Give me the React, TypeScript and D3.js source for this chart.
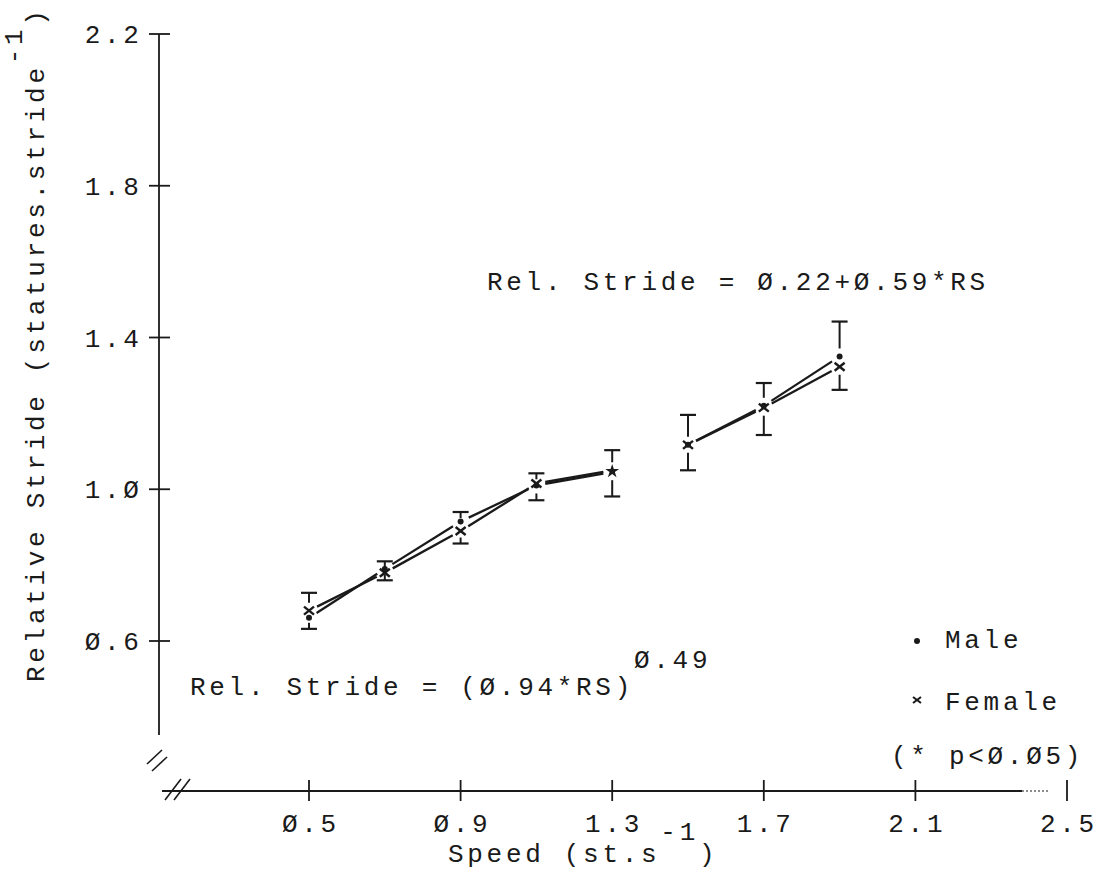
import React from "react";
import * as d3 from "d3";

const speeds = [0.5, 0.7, 0.9, 1.1, 1.3, 1.5, 1.7, 1.9];
const maleStride = [0.661, 0.79, 0.915, 1.01, 1.045, 1.117, 1.22, 1.35];
const femaleStride = [0.68, 0.78, 0.89, 1.015, 1.05, 1.117, 1.215, 1.323];
const errHigh = [0.727, 0.81, 0.94, 1.042, 1.103, 1.196, 1.28, 1.442];
const errLow = [0.632, 0.76, 0.857, 0.971, 0.981, 1.05, 1.143, 1.262];
const lineGroup = [0, 0, 0, 0, 0, 1, 1, 1];
const significant = [false, false, false, false, true, false, false, false];

const xTicks = [0.5, 0.9, 1.3, 1.7, 2.1, 2.5];
const yTicks = [0.6, 1.0, 1.4, 1.8, 2.2];

const FONT = "'Liberation Mono', 'DejaVu Sans Mono', monospace";
const FS = 26;
const LS = 3.7;

const fmt = (v: number) => v.toFixed(1).replace(/0/g, "\u00D8");

export default function App() {
  const W = 1104, H = 876;
  const x = d3.scaleLinear().domain([0.5, 2.5]).range([309, 1067]);
  const y = d3.scaleLinear().domain([0.6, 2.2]).range([641, 34]);
  const axisX = 159;
  const axisY = 791;
  const ink = "#1a1a1a";

  const shorten = (x1: number, y1: number, x2: number, y2: number, g: number) => {
    const dx = x2 - x1, dy = y2 - y1;
    const L = Math.hypot(dx, dy);
    const ux = dx / L, uy = dy / L;
    return [x1 + ux * g, y1 + uy * g, x2 - ux * g, y2 - uy * g];
  };

  const seriesLines = (vals: number[], key: string) => {
    const out: JSX.Element[] = [];
    for (let i = 0; i < vals.length - 1; i++) {
      if (lineGroup[i] !== lineGroup[i + 1]) continue;
      const [a, b, c, d] = shorten(x(speeds[i]), y(vals[i]), x(speeds[i + 1]), y(vals[i + 1]), 9);
      out.push(<line key={key + i} x1={a} y1={b} x2={c} y2={d} stroke={ink} strokeWidth={2.3} />);
    }
    return out;
  };

  const star = d3.symbol().type(d3.symbolStar).size(60)();

  const textStyle = { fontFamily: FONT, fontSize: FS, letterSpacing: LS, fill: ink } as React.CSSProperties;

  return (
    <svg width={W} height={H} style={{ position: "absolute", left: 0, top: 0, background: "#fff" }}>
      <rect width={W} height={H} fill="#fff" />
      {/* Y axis */}
      <line x1={axisX} y1={34} x2={axisX} y2={735} stroke={ink} strokeWidth={1.8} />
      {yTicks.map((t) => (
        <g key={"yt" + t}>
          <line x1={axisX - 10} x2={axisX + 11} y1={y(t)} y2={y(t)} stroke={ink} strokeWidth={1.8} />
          <text x={139 + LS} y={y(t) + 9} textAnchor="end" style={textStyle}>{fmt(t)}</text>
        </g>
      ))}
      {/* Y break marks */}
      <line x1={147} y1={764} x2={162} y2={750} stroke={ink} strokeWidth={1.6} />
      <line x1={152} y1={771} x2={167} y2={757} stroke={ink} strokeWidth={1.6} />
      {/* X axis */}
      <line x1={162} y1={axisY} x2={1022} y2={axisY} stroke={ink} strokeWidth={1.8} />
      <line x1={1022} y1={axisY} x2={1048} y2={axisY} stroke={ink} strokeWidth={1.2} strokeDasharray="2 2" />
      <line x1={165} y1={800} x2={181} y2={779} stroke={ink} strokeWidth={1.6} />
      <line x1={174} y1={800} x2={190} y2={779} stroke={ink} strokeWidth={1.6} />
      {xTicks.map((t) => (
        <g key={"xt" + t}>
          <line x1={x(t)} x2={x(t)} y1={axisY - 11} y2={axisY + 10} stroke={ink} strokeWidth={1.8} />
          <text x={x(t) + LS / 2} y={832} textAnchor="middle" style={textStyle}>{fmt(t)}</text>
        </g>
      ))}
      {/* Axis titles */}
      <text x={448} y={862} style={textStyle}>
        Speed (st.s<tspan dy={-22}>-1</tspan><tspan dy={22}>)</tspan>
      </text>
      <text transform="translate(44,682) rotate(-90)" style={textStyle}>
        Relative Stride  (statures.stride<tspan dy={-22}>-1</tspan><tspan dy={22}>)</tspan>
      </text>

      {/* Error bars */}
      {speeds.map((s, i) => {
        const cx = x(s);
        const top = Math.min(y(maleStride[i]), y(femaleStride[i]));
        const bot = Math.max(y(maleStride[i]), y(femaleStride[i]));
        const yh = y(errHigh[i]);
        const yl = y(errLow[i]);
        const upEnd = Math.max(yh + 6, top - 8);
        const loEnd = Math.min(yl - 6, bot + 8);
        return (
          <g key={"eb" + i}>
            <line x1={cx - 8} x2={cx + 8} y1={yh} y2={yh} stroke={ink} strokeWidth={2.2} />
            <line x1={cx} x2={cx} y1={yh} y2={upEnd} stroke={ink} strokeWidth={2} />
            <line x1={cx - 8} x2={cx + 8} y1={yl} y2={yl} stroke={ink} strokeWidth={2.2} />
            <line x1={cx} x2={cx} y1={yl} y2={loEnd} stroke={ink} strokeWidth={2} />
          </g>
        );
      })}

      {/* Lines */}
      {seriesLines(maleStride, "m")}
      {seriesLines(femaleStride, "f")}

      {/* Markers */}
      {speeds.map((s, i) => {
        const cx = x(s);
        const my = y(maleStride[i]);
        const fy = y(femaleStride[i]);
        if (significant[i]) {
          return <path key={"mk" + i} d={star as string} transform={`translate(${cx},${(my + fy) / 2})`} fill={ink} />;
        }
        return (
          <g key={"mk" + i}>
            <circle cx={cx} cy={my} r={3} fill={ink} />
            <line x1={cx - 5} x2={cx + 5} y1={fy - 4} y2={fy + 4} stroke={ink} strokeWidth={2.4} />
            <line x1={cx - 5} x2={cx + 5} y1={fy + 4} y2={fy - 4} stroke={ink} strokeWidth={2.4} />
          </g>
        );
      })}

      {/* Equations */}
      <text x={487} y={290} style={textStyle}>Rel. Stride = {"\u00D8"}.22+{"\u00D8"}.59*RS</text>
      <text x={190} y={695} style={textStyle}>
        Rel. Stride = ({"\u00D8"}.94*RS)<tspan dy={-27}>{"\u00D8"}.49</tspan>
      </text>

      {/* Legend */}
      <circle cx={917} cy={641} r={3} fill={ink} />
      <text x={945} y={648} style={textStyle}>Male</text>
      <line x1={913} x2={921} y1={697} y2={703} stroke={ink} strokeWidth={2} />
      <line x1={913} x2={921} y1={703} y2={697} stroke={ink} strokeWidth={2} />
      <text x={945} y={710} style={textStyle}>Female</text>
      <text x={891} y={764} style={textStyle}>(* p&lt;{"\u00D8"}.{"\u00D8"}5)</text>
    </svg>
  );
}
